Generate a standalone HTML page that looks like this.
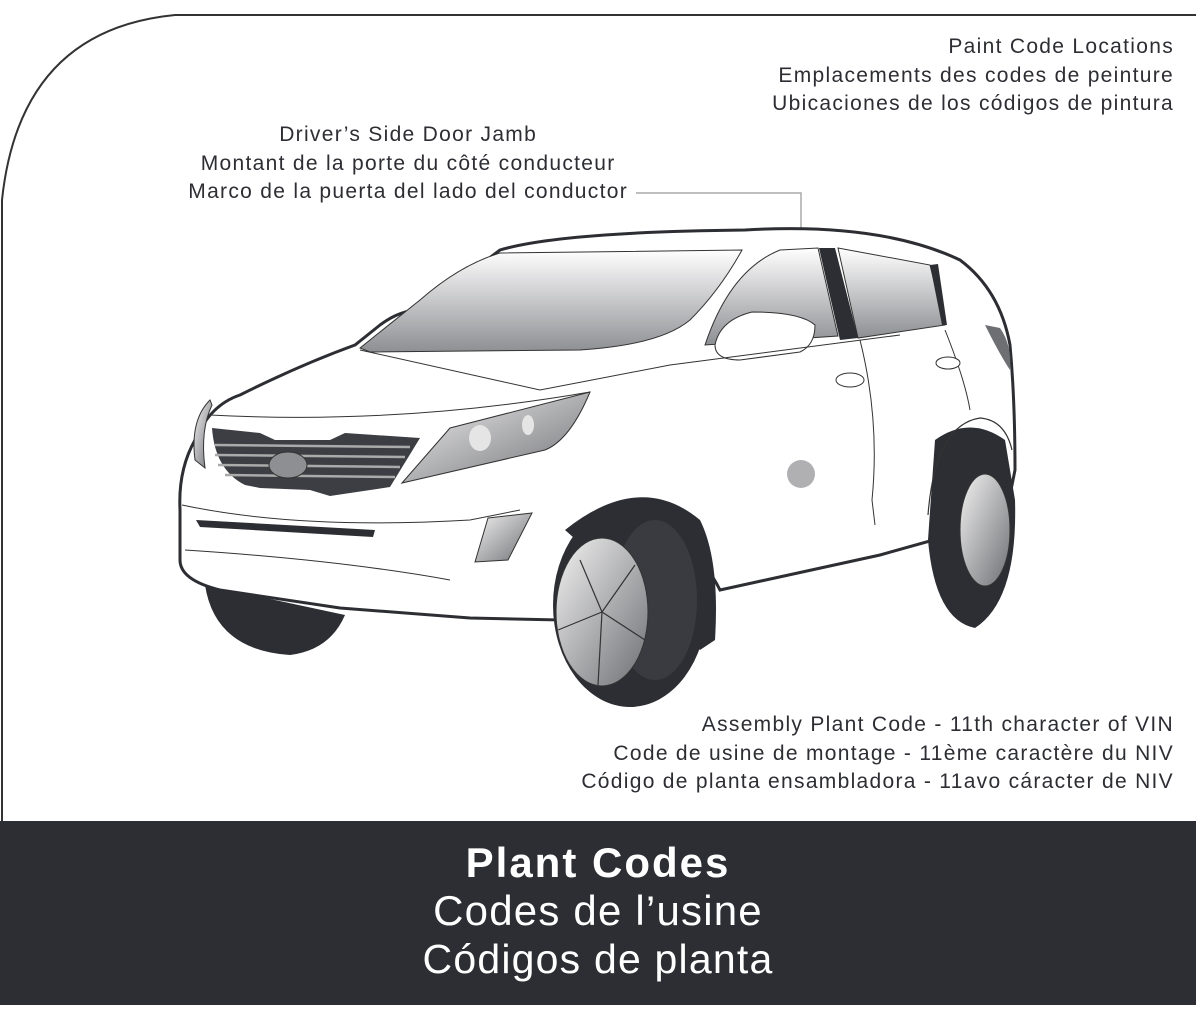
<!DOCTYPE html>
<html><head><meta charset="utf-8"><style>
html,body{margin:0;padding:0;background:#fff;}
body{width:1196px;height:1010px;position:relative;overflow:hidden;font-family:"Liberation Sans",sans-serif;color:#2d2e33;}
.t{position:absolute;font-size:21px;letter-spacing:1.3px;line-height:28.5px;white-space:nowrap;}
.band{position:absolute;left:0;top:821px;width:1196px;height:184px;background:#2d2e33;color:#fff;text-align:center;}
.band div{font-size:40px;line-height:48px;letter-spacing:1.2px;}
</style></head><body>
<svg width="1196" height="1010" style="position:absolute;left:0;top:0">
<defs>
<linearGradient id="g" x1="0" y1="0" x2="0" y2="1"><stop offset="0" stop-color="#fff"/><stop offset="1" stop-color="#8e8f93"/></linearGradient>
<linearGradient id="h" x1="0" y1="0" x2="1" y2="1"><stop offset="0" stop-color="#f2f2f2"/><stop offset="1" stop-color="#6e6f73"/></linearGradient>
</defs>
<path d="M1196 15 L175 15 Q20 30 2 200 L2 821" fill="none" stroke="#333" stroke-width="2"/>
<polyline points="636,193 801,193 801,474" fill="none" stroke="#aaa" stroke-width="1.5"/>
<path d="M205 585 Q215 650 290 655 Q330 650 345 615 Z" fill="#2d2e33"/>
<path d="M180 510 Q178 470 195 440 Q210 405 240 395 Q300 365 355 345 L380 325 Q400 310 420 310 L500 250 Q560 232 745 230 Q880 222 960 260 Q1000 290 1010 345 Q1015 400 1015 470 L1005 520 L880 555 L720 590 Q690 530 620 520 Q560 540 560 620 L470 618 L340 608 L220 590 Q180 580 180 560 Z" fill="#fff" stroke="#2d2e33" stroke-width="3"/>
<path d="M935 440 Q970 415 1005 440 L1015 500 Q1018 600 975 628 Q935 620 928 540 Z" fill="#2d2e33"/>
<ellipse cx="985" cy="530" rx="25" ry="56" fill="url(#h)" stroke="#333"/>
<path d="M928 515 Q935 425 980 418 Q1005 420 1012 450" fill="none" stroke="#333" stroke-width="1.2"/>
<path d="M360 348 L420 300 Q460 265 500 253 L742 250 Q720 290 690 320 Q660 345 580 350 L370 352 Z" fill="url(#g)" stroke="#333"/>
<path d="M705 345 Q730 270 780 250 L818 248 L838 336 Z" fill="url(#g)" stroke="#333"/>
<path d="M838 248 L930 265 L945 325 L858 338 Z" fill="url(#g)" stroke="#333"/>
<path d="M819 248 L835 248 L858 338 L840 340 Z" fill="#2d2e33"/>
<path d="M930 265 L938 264 L947 325 L942 325 Z" fill="#2d2e33"/>
<path d="M715 345 Q720 320 752 312 Q800 312 815 325 Q815 345 800 352 L740 360 Q715 360 715 345 Z" fill="#fff" stroke="#333"/>
<path d="M860 340 Q880 420 872 500 L875 525" fill="none" stroke="#333"/>
<path d="M945 330 Q965 380 970 410" fill="none" stroke="#333"/>
<path d="M360 350 L540 390 L670 365 L900 335" fill="none" stroke="#333"/>
<path d="M210 415 Q400 425 590 392" fill="none" stroke="#333"/>
<path d="M182 505 Q300 530 470 520 L520 510" fill="none" stroke="#333"/>
<path d="M185 550 Q340 560 450 580" fill="none" stroke="#333"/>
<path d="M212 428 L260 433 L275 440 L330 440 L345 433 L420 438 L390 487 L330 496 L310 490 L260 488 L245 485 Q215 470 212 428 Z" fill="#3d3e43"/>
<g stroke="#aaa" stroke-width="2.5"><line x1="215" y1="445" x2="410" y2="447"/><line x1="215" y1="455" x2="405" y2="457"/><line x1="218" y1="465" x2="400" y2="467"/><line x1="225" y1="475" x2="395" y2="477"/></g>
<ellipse cx="288" cy="465" rx="19" ry="13" fill="#8e8f93" stroke="#333"/>
<path d="M210 400 Q190 420 195 460 L205 468 Q200 430 212 405 Z" fill="url(#h)" stroke="#333"/>
<path d="M402 483 L450 428 L590 392 Q570 440 545 450 Z" fill="url(#h)" stroke="#333"/>
<ellipse cx="480" cy="438" rx="11" ry="13" fill="#e5e5e5"/>
<ellipse cx="528" cy="425" rx="6" ry="10" fill="#e5e5e5"/>
<path d="M196 520 L375 530 L373 537 L200 527 Z" fill="#2d2e33"/>
<path d="M488 518 L532 513 L508 560 L475 562 Z" fill="url(#h)" stroke="#333"/>
<path d="M985 325 L1000 328 Q1012 345 1010 370 Q1000 355 985 325 Z" fill="#6e6f73"/>
<ellipse cx="850" cy="380" rx="14" ry="7" fill="#fff" stroke="#333"/>
<ellipse cx="948" cy="363" rx="12" ry="6" fill="#fff" stroke="#333"/>
<path d="M565 530 Q640 470 700 520 Q720 560 715 640 L700 650 Z" fill="#2d2e33"/>
<ellipse cx="630" cy="605" rx="77" ry="102" fill="#2d2e33"/>
<ellipse cx="655" cy="600" rx="42" ry="80" fill="#3a3b40"/>
<ellipse cx="602" cy="612" rx="46" ry="74" fill="url(#h)" stroke="#333"/>
<g stroke="#333" stroke-width="1.2" fill="none"><path d="M602 612 L580 560"/><path d="M602 612 L635 565"/><path d="M602 612 L645 640"/><path d="M602 612 L598 685"/><path d="M602 612 L558 630"/></g>
<circle cx="801" cy="474" r="14" fill="#b0b0b2"/>
</svg>
<div class="t" style="right:568px;text-align:center;top:121px">Driver’s Side Door Jamb<br>Montant de la porte du côté conducteur<br>Marco de la puerta del lado del conductor</div>
<div class="t" style="right:22px;text-align:right;top:33px">Paint Code Locations<br>Emplacements des codes de peinture<br>Ubicaciones de los códigos de pintura</div>
<div class="t" style="right:22px;text-align:right;top:711px">Assembly Plant Code - 11th character of VIN<br>Code de usine de montage - 11ème caractère du NIV<br>Código de planta ensambladora - 11avo cáracter de NIV</div>
<div class="band"><div style="font-weight:bold;margin-top:18px;font-size:42px;letter-spacing:2px">Plant Codes</div><div style="font-size:42px;letter-spacing:1.2px">Codes de l’usine</div><div style="font-size:41px">Códigos de planta</div></div>
</body></html>
